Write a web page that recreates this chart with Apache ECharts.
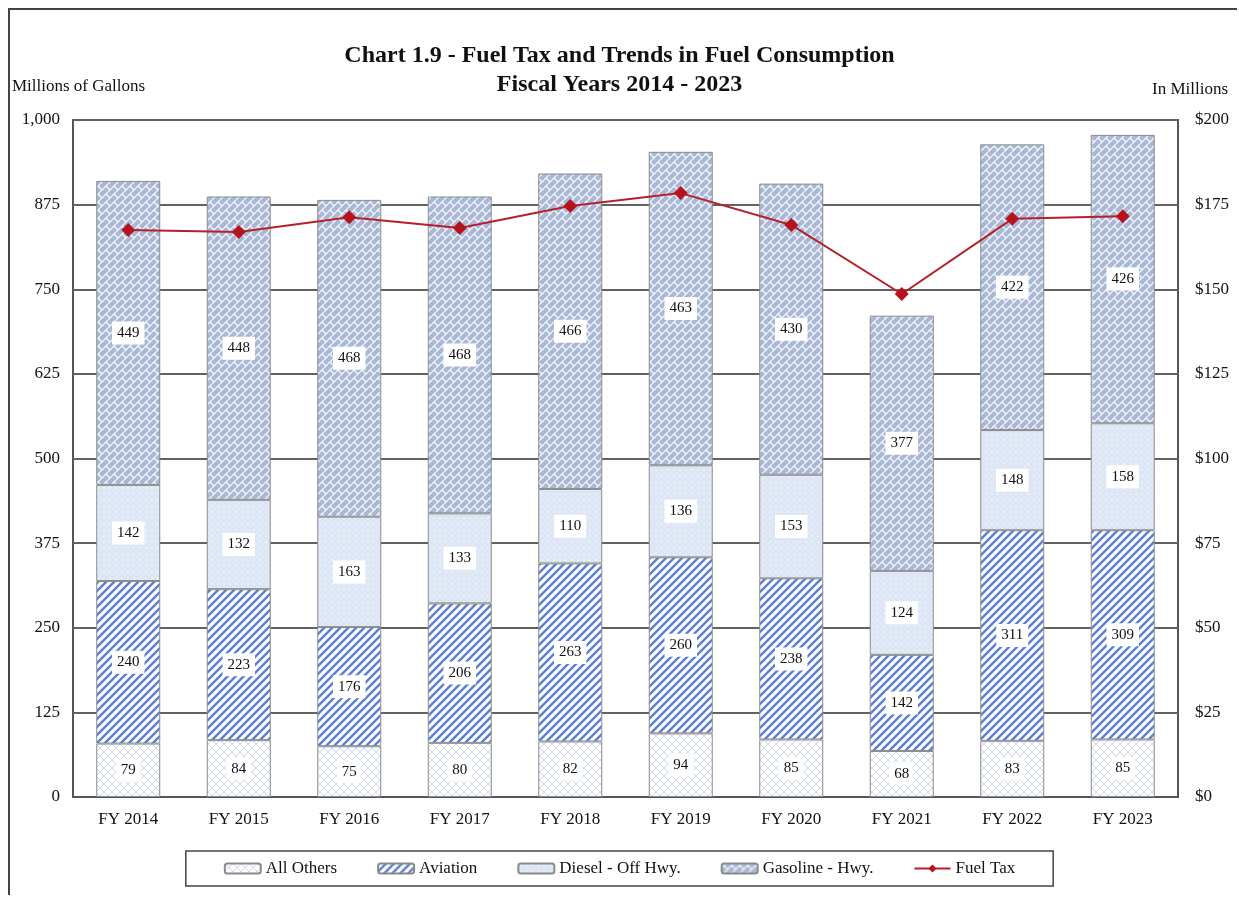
<!DOCTYPE html>
<html><head><meta charset="utf-8">
<script src="https://cdn.jsdelivr.net/npm/echarts@6/dist/echarts.min.js"></script>
<style>html,body{margin:0;padding:0;background:#fff}#c{width:1239px;height:897px}
#frame{position:absolute;left:8px;top:8px;width:1229px;height:887px;border:2px solid #444;border-right:none;border-bottom:none;box-sizing:border-box;pointer-events:none}</style>
</head><body><div id="c"></div><div id="frame"></div>
<script>
const categories = ['FY 2014','FY 2015','FY 2016','FY 2017','FY 2018','FY 2019','FY 2020','FY 2021','FY 2022','FY 2023'];
const allOthers = [79,84,75,80,82,94,85,68,83,85];
const aviation = [240,223,176,206,263,260,238,142,311,309];
const diesel = [142,132,163,133,110,136,153,124,148,158];
const gasoline = [449,448,468,468,466,463,430,377,422,426];
const fuelTax = [167.5,166.9,171.3,168.1,174.6,178.4,169.0,148.6,170.8,171.6];
const leftTicks = [0,125,250,375,500,625,750,875,1000];

function tile(w,h,draw){const c=document.createElement('canvas');c.width=w;c.height=h;const x=c.getContext('2d');draw(x,w,h);return {image:c,repeat:'repeat'};}
const patOthers = tile(8,8,(g,w,h)=>{g.fillStyle='#fff';g.fillRect(0,0,w,h);g.strokeStyle='#cdd5e8';g.lineWidth=1;
  g.beginPath();g.moveTo(0,0);g.lineTo(8,8);g.moveTo(8,0);g.lineTo(0,8);g.stroke();});
const patAviation = tile(8,8,(g,w,h)=>{g.fillStyle='#fff';g.fillRect(0,0,w,h);g.strokeStyle='#5a7fd0';g.lineWidth=2.4;
  g.beginPath();g.moveTo(-1,9);g.lineTo(9,-1);g.moveTo(-5,5);g.lineTo(5,-5);g.moveTo(3,13);g.lineTo(13,3);g.stroke();});
const patDiesel = tile(6,6,(g,w,h)=>{g.fillStyle='#dde6f4';g.fillRect(0,0,w,h);g.fillStyle='#eaf0f9';g.fillRect(1,1,2,2);g.fillRect(4,4,1,1);});
const patGas = tile(8,8,(g,w,h)=>{g.fillStyle='#a9b8d6';g.fillRect(0,0,w,h);g.strokeStyle='#f4f6fb';g.lineWidth=1.3;
  g.beginPath();g.moveTo(0,4);g.lineTo(4,0);g.moveTo(4,8);g.lineTo(8,4);g.moveTo(2,2);g.lineTo(6,6);g.stroke();});

const serif = '"Liberation Serif","DejaVu Serif",serif';
const lbl = {show:true,position:'inside',color:'#111',fontFamily:serif,fontSize:15,backgroundColor:'#fff',padding:[4,5]};
function barSeries(name,data,pat){return {name,type:'bar',stack:'s',data,barWidth:64,itemStyle:{color:pat,borderColor:'#8a8a8a',borderWidth:1},label:lbl,emphasis:{disabled:true}};}

const chart = echarts.init(document.getElementById('c'),null,{renderer:'canvas'});
chart.setOption({
  animation:false,
  backgroundColor:'#fff',
  title:{text:'Chart 1.9 - Fuel Tax and Trends in Fuel Consumption\nFiscal Years 2014 - 2023',left:'center',top:36,
    textStyle:{fontFamily:serif,fontWeight:'bold',fontSize:24,lineHeight:29,color:'#111'}},
  graphic:[
    {type:'text',left:12,top:78,style:{text:'Millions of Gallons',font:'17px '+serif,fill:'#111'}},
    {type:'text',right:11,top:81,style:{text:'In Millions',font:'17px '+serif,fill:'#111'}}
  ],
  grid:{left:73,right:61,top:120,bottom:100,show:true,borderColor:'#555',borderWidth:2,backgroundColor:'transparent'},
  legend:{bottom:11,left:'center',itemWidth:36,itemHeight:10,itemGap:40,padding:[9,38],borderColor:'#444',borderWidth:1.5,
    textStyle:{fontFamily:serif,fontSize:17,color:'#111'},
    data:['All Others','Aviation','Diesel - Off Hwy.','Gasoline - Hwy.','Fuel Tax']},
  xAxis:{type:'category',data:categories,axisTick:{show:false},axisLine:{lineStyle:{color:'#555',width:2}},
    axisLabel:{fontFamily:serif,fontSize:17,color:'#111',margin:14}},
  yAxis:[
    {type:'value',min:0,max:1000,interval:125,axisLine:{show:false},axisTick:{show:false},
     splitLine:{lineStyle:{color:'#626262',width:2}},
     axisLabel:{fontFamily:serif,fontSize:17,color:'#111',margin:13,formatter:v=>v.toLocaleString('en-US')}},
    {type:'value',min:0,max:200,interval:25,axisLine:{show:false},axisTick:{show:false},splitLine:{show:false},
     axisLabel:{fontFamily:serif,fontSize:17,color:'#111',margin:17,formatter:v=>'$'+v}}
  ],
  series:[
    barSeries('All Others',allOthers,patOthers),
    barSeries('Aviation',aviation,patAviation),
    barSeries('Diesel - Off Hwy.',diesel,patDiesel),
    barSeries('Gasoline - Hwy.',gasoline,patGas),
    {name:'Fuel Tax',type:'line',yAxisIndex:1,data:fuelTax,symbol:'diamond',symbolSize:14,
     lineStyle:{color:'#b5202a',width:2},itemStyle:{color:'#b5131e'},z:5,emphasis:{disabled:true}}
  ]
});
</script></body></html>
